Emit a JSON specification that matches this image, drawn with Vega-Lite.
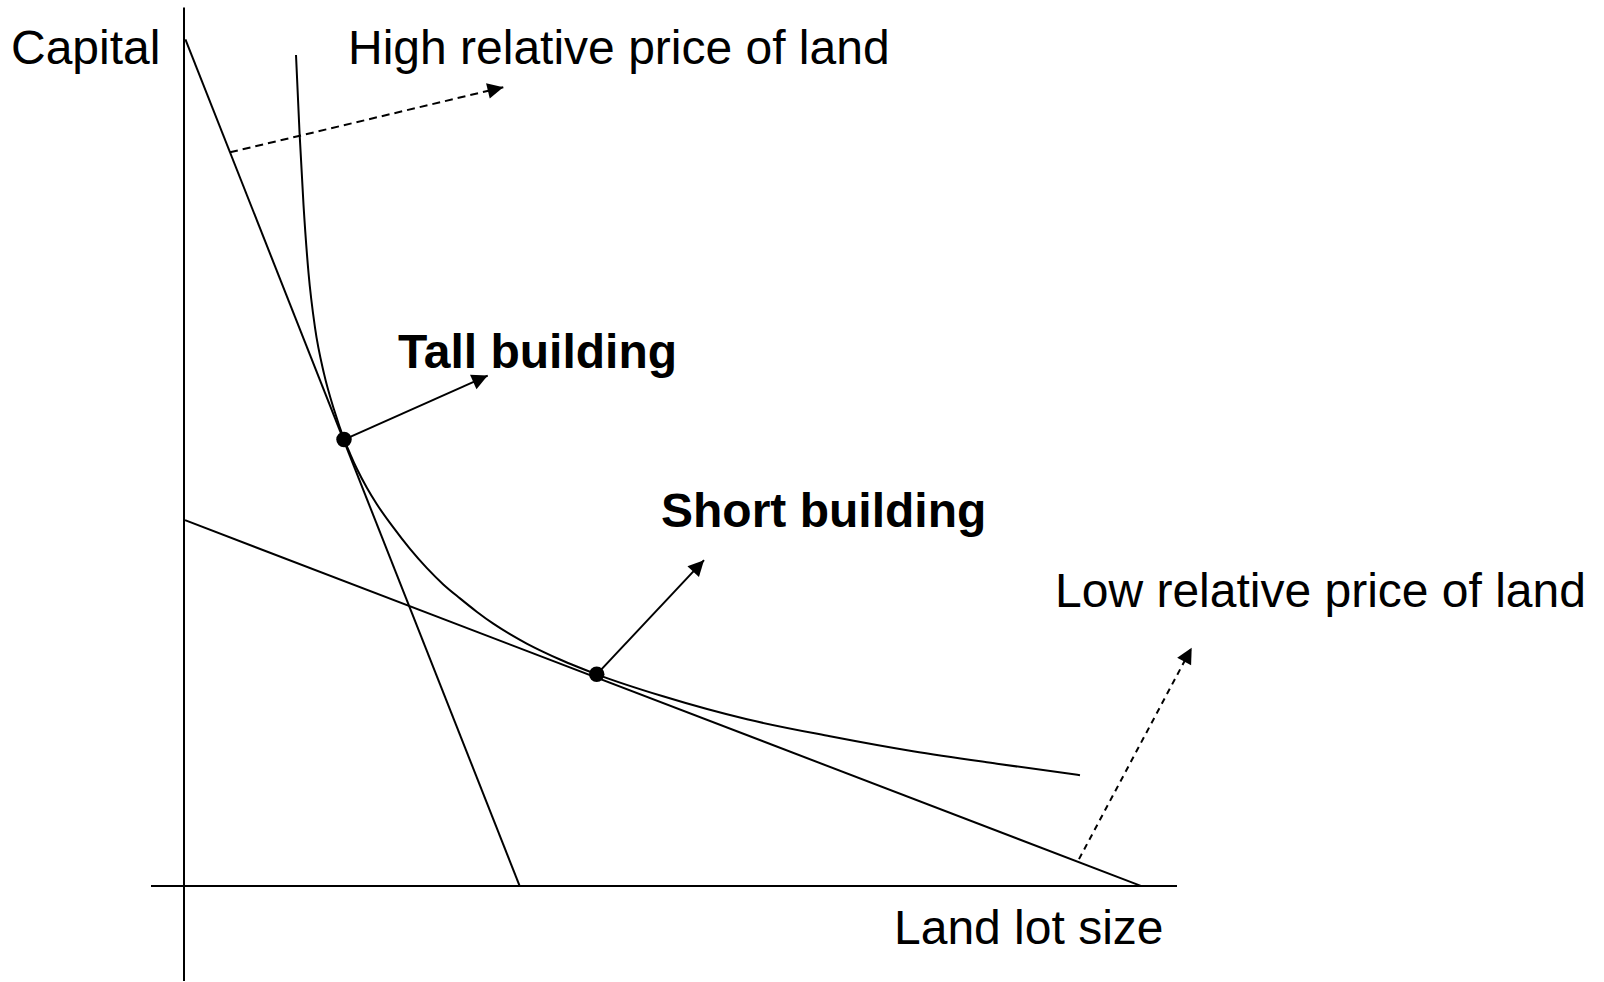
{
  "$schema": "https://vega.github.io/schema/vega-lite/v6.json",
  "width": 1604,
  "height": 982,
  "padding": 0,
  "autosize": {"type": "fit", "contains": "padding"},
  "background": "white",
  "config": {"view": {"stroke": null}},
  "datasets": {
    "segments": [
      {"name": "y-axis", "kind": "axis", "x": 0, "y": -9.5, "x2": 0, "y2": 87.95},
      {"name": "x-axis", "kind": "axis", "x": -3.3, "y": 0, "x2": 99.3, "y2": 0},
      {"name": "steep budget", "kind": "budget", "x": 0.14, "y": 84.77, "x2": 33.57, "y2": 0},
      {"name": "shallow budget", "kind": "budget", "x": 0.1, "y": 36.63, "x2": 95.75, "y2": 0},
      {"name": "tall", "kind": "arrow", "x": 16.0, "y": 44.7, "x2": 30.37, "y2": 51.1},
      {"name": "short", "kind": "arrow", "x": 41.27, "y": 21.2, "x2": 52.0, "y2": 32.63},
      {"name": "high", "kind": "shift", "x": 4.6, "y": 73.45, "x2": 31.93, "y2": 79.97},
      {"name": "low", "kind": "shift", "x": 89.5, "y": 2.7, "x2": 100.77, "y2": 23.87}
    ],
    "curve": [
      {"x": 11.2, "y": 83.2},
      {"x": 11.55, "y": 75.5},
      {"x": 11.95, "y": 68.2},
      {"x": 12.45, "y": 61.4},
      {"x": 13.1, "y": 55.9},
      {"x": 14.0, "y": 51.3},
      {"x": 15.0, "y": 47.7},
      {"x": 16.0, "y": 44.75},
      {"x": 16.6, "y": 43.3},
      {"x": 17.3, "y": 41.75},
      {"x": 18.3, "y": 39.85},
      {"x": 19.27, "y": 38.25},
      {"x": 20.93, "y": 35.9},
      {"x": 22.6, "y": 33.75},
      {"x": 24.27, "y": 31.85},
      {"x": 25.93, "y": 30.2},
      {"x": 27.6, "y": 28.8},
      {"x": 29.27, "y": 27.47},
      {"x": 30.93, "y": 26.27},
      {"x": 32.6, "y": 25.22},
      {"x": 34.27, "y": 24.28},
      {"x": 35.93, "y": 23.45},
      {"x": 37.6, "y": 22.68},
      {"x": 39.27, "y": 21.98},
      {"x": 41.27, "y": 21.2},
      {"x": 47.9, "y": 19.0},
      {"x": 56.3, "y": 16.7},
      {"x": 64.6, "y": 15.0},
      {"x": 72.9, "y": 13.5},
      {"x": 81.3, "y": 12.25},
      {"x": 89.6, "y": 11.1}
    ],
    "dots": [
      {"name": "tall", "x": 16.0, "y": 44.7},
      {"name": "short", "x": 41.27, "y": 21.2}
    ],
    "tips": [
      {"name": "high", "x": 31.93, "y": 79.97},
      {"name": "tall", "x": 30.37, "y": 51.1},
      {"name": "short", "x": 52.0, "y": 32.63},
      {"name": "low", "x": 100.77, "y": 23.87}
    ],
    "labels": [
      {"text": "Capital", "kind": "plain", "x": -17.3, "y": 82.3},
      {"text": "High relative price of land", "kind": "plain", "x": 16.4, "y": 82.3},
      {"text": "Tall building", "kind": "bold", "x": 21.4, "y": 51.9},
      {"text": "Short building", "kind": "bold", "x": 47.7, "y": 35.9},
      {"text": "Low relative price of land", "kind": "plain", "x": 87.1, "y": 27.9},
      {"text": "Land lot size", "kind": "plain", "x": 71.0, "y": -5.8}
    ]
  },
  "encoding": {
    "x": {"field": "x", "type": "quantitative", "scale": {"domain": [-18.4, 142.0], "nice": false, "zero": false}, "axis": null},
    "y": {"field": "y", "type": "quantitative", "scale": {"domain": [-9.5, 88.7], "nice": false, "zero": false}, "axis": null}
  },
  "layer": [
    {
      "data": {"name": "segments"},
      "transform": [{"filter": "datum.kind === 'axis' || datum.kind === 'budget' || datum.kind === 'arrow'"}],
      "mark": {"type": "rule", "color": "black", "strokeWidth": 2},
      "encoding": {"x2": {"field": "x2"}, "y2": {"field": "y2"}}
    },
    {
      "data": {"name": "segments"},
      "transform": [{"filter": "datum.name === 'high'"}],
      "mark": {"type": "rule", "color": "black", "strokeWidth": 2, "strokeDash": [8, 5]},
      "encoding": {"x2": {"field": "x2"}, "y2": {"field": "y2"}}
    },
    {
      "data": {"name": "segments"},
      "transform": [{"filter": "datum.name === 'low'"}],
      "mark": {"type": "rule", "color": "black", "strokeWidth": 2, "strokeDash": [6, 5]},
      "encoding": {"x2": {"field": "x2"}, "y2": {"field": "y2"}}
    },
    {
      "data": {"name": "curve"},
      "mark": {"type": "line", "color": "black", "strokeWidth": 2, "interpolate": "monotone"},
      "encoding": {}
    },
    {
      "data": {"name": "dots"},
      "mark": {"type": "point", "shape": "circle", "filled": true, "color": "black", "opacity": 1, "size": 240},
      "encoding": {}
    },
    {
      "data": {"name": "tips"},
      "transform": [{"filter": "datum.name === 'high'"}],
      "mark": {"type": "point", "shape": "M0,0L1,2L-1,2Z", "filled": true, "color": "black", "opacity": 1, "size": 250, "angle": 76.6},
      "encoding": {}
    },
    {
      "data": {"name": "tips"},
      "transform": [{"filter": "datum.name === 'tall'"}],
      "mark": {"type": "point", "shape": "M0,0L1,2L-1,2Z", "filled": true, "color": "black", "opacity": 1, "size": 250, "angle": 66.0},
      "encoding": {}
    },
    {
      "data": {"name": "tips"},
      "transform": [{"filter": "datum.name === 'short'"}],
      "mark": {"type": "point", "shape": "M0,0L1,2L-1,2Z", "filled": true, "color": "black", "opacity": 1, "size": 250, "angle": 43.2},
      "encoding": {}
    },
    {
      "data": {"name": "tips"},
      "transform": [{"filter": "datum.name === 'low'"}],
      "mark": {"type": "point", "shape": "M0,0L1,2L-1,2Z", "filled": true, "color": "black", "opacity": 1, "size": 250, "angle": 28.5},
      "encoding": {}
    },
    {
      "data": {"name": "labels"},
      "transform": [{"filter": "datum.kind === 'plain'"}],
      "mark": {"type": "text", "font": "Liberation Sans", "fontSize": 48, "color": "black", "align": "left", "baseline": "alphabetic"},
      "encoding": {"text": {"field": "text"}}
    },
    {
      "data": {"name": "labels"},
      "transform": [{"filter": "datum.kind === 'bold'"}],
      "mark": {"type": "text", "font": "Liberation Sans", "fontSize": 48, "fontWeight": "bold", "color": "black", "align": "left", "baseline": "alphabetic"},
      "encoding": {"text": {"field": "text"}}
    }
  ]
}
